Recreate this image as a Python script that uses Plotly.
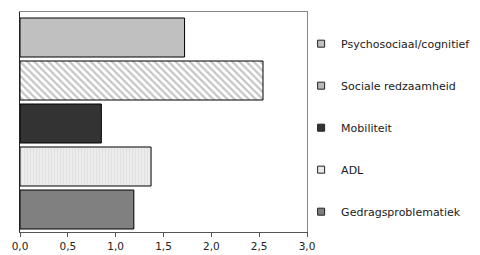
import plotly.graph_objects as go

# Data (top to bottom in the chart)
categories = ["Psychosociaal/cognitief", "Sociale redzaamheid", "Mobiliteit", "ADL", "Gedragsproblematiek"]
values = [1.72, 2.54, 0.85, 1.37, 1.19]
x_ticks = [0.0, 0.5, 1.0, 1.5, 2.0, 2.5, 3.0]

styles = {
    "Psychosociaal/cognitief": dict(color="#c0c0c0"),
    "Sociale redzaamheid": dict(color="#ffffff", legend="#b8b8b8",
                                pattern=dict(shape="\\", fgcolor="#8c8c8c", bgcolor="#ffffff", size=5, solidity=0.45)),
    "Mobiliteit": dict(color="#333333"),
    "ADL": dict(color="#eaeaea", pattern=dict(shape="|", fgcolor="#d6d6d6", bgcolor="#ececec", size=3, solidity=0.3)),
    "Gedragsproblematiek": dict(color="#808080"),
}

fig = go.Figure()
n = len(categories)
for i in range(n):
    name = categories[i]
    st = styles[name]
    marker = dict(color=st["color"], line=dict(color="#000000", width=1))
    if "pattern" in st:
        marker["pattern"] = st["pattern"]
    fig.add_trace(go.Bar(
        x=[values[i]], y=[n - 1 - i], orientation="h", name=name,
        width=0.907, marker=marker, showlegend=False,
    ))

# legend-only entries with small square symbols (top to bottom)
for i in range(n):
    name = categories[i]
    st = styles[name]
    fig.add_trace(go.Scatter(
        x=[None], y=[None], mode="markers", name=name, legendgroup=name,
        marker=dict(symbol="square", size=7, color=st.get("legend", st["color"]),
                    line=dict(color="#222222", width=1)),
        hoverinfo="skip",
    ))

fig.update_layout(
    width=480, height=255,
    margin=dict(l=12, r=181, t=4, b=31, autoexpand=False),
    paper_bgcolor="white", plot_bgcolor="white",
    barmode="overlay",
    separators=",.",
    font=dict(family="DejaVu Sans", size=10, color="#222222"),
    showlegend=True,
    legend=dict(
        traceorder="grouped", tracegroupgap=23,
        x=0.9795, xanchor="left", y=0.922, yanchor="top",
        font=dict(size=11, color="#1a1a1a"),
        bgcolor="rgba(0,0,0,0)",
    ),
    xaxis=dict(
        range=[0, 3.0], tickvals=x_ticks, tickformat=".1f",
        showgrid=False, zeroline=False, automargin=False,
        showline=True, linecolor="#555555", linewidth=1,
        ticks="outside", ticklen=4, tickcolor="#555555",
        tickfont=dict(size=10.5, color="#222222"),
    ),
    xaxis2=dict(overlaying="x", side="top", showline=True, linecolor="#888888", automargin=False,
                showticklabels=False, ticks="", range=[0, 3], showgrid=False, zeroline=False),
    yaxis=dict(
        range=[-0.523, 4.593], showticklabels=False, showgrid=False, zeroline=False,
        showline=True, linecolor="#222222", linewidth=1, ticks="", automargin=False,
    ),
    yaxis2=dict(overlaying="y", side="right", anchor="x", showline=True, linecolor="#888888",
                automargin=False, showticklabels=False, ticks="", showgrid=False, zeroline=False,
                range=[-0.523, 4.593]),
)
fig.add_trace(go.Scatter(x=[None], y=[None], xaxis="x2", yaxis="y2", showlegend=False, hoverinfo="skip"))

fig.write_html("out.html")
